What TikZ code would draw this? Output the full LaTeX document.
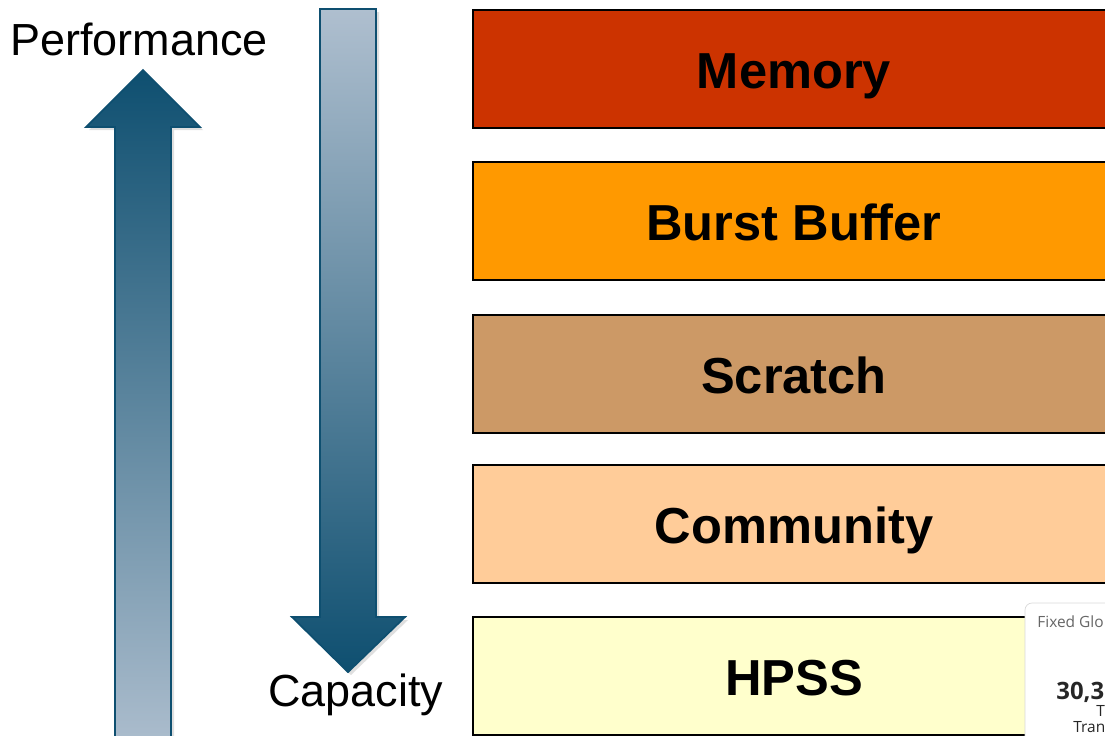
\documentclass[tikz,border=0pt]{standalone}
\usepackage{fontspec}
\setmainfont{Liberation Sans}
\newfontfamily\popfont{Open Sans}
\begin{document}
\begin{tikzpicture}[x=0.02cm,y=-0.02cm,
  tier/.style={draw=black,line width=1.2pt,minimum width=28.8cm,minimum height=2.36cm,anchor=north west,inner sep=0pt},
  tierlabel/.style={font=\fontsize{28.8}{30}\selectfont\bfseries,text=black,anchor=base},
  axislabel/.style={font=\fontsize{25.6}{28}\selectfont,text=black,inner sep=0pt},
  poptext/.style={font=\popfont\fontsize{8.8}{10}\selectfont,text=black!85,anchor=west,inner sep=0pt},
  arrowborder/.style={draw=arrowdark,line width=1pt,line join=miter}]
\definecolor{arrowdark}{HTML}{0E4F70}
\definecolor{arrowlight}{HTML}{AFBFCF}
\definecolor{memc}{HTML}{CC3300}
\definecolor{bbc}{HTML}{FF9900}
\definecolor{scrc}{HTML}{CC9966}
\definecolor{comc}{HTML}{FFCC99}
\definecolor{hpssc}{HTML}{FFFFCC}
\useasboundingbox (0,0) rectangle (1105,735);
\clip (0,0) rectangle (1105,735);
% tiers
\node[tier,fill=memc] (mem) at (472,9) {};
\node[tierlabel] (memt) at (794,88) {Memory};
\node[tier,fill=bbc] (bb) at (472,161) {};
\node[tierlabel] (bbt) at (794,240) {Burst Buffer};
\node[tier,fill=scrc] (scr) at (472,314) {};
\node[tierlabel] (scrt) at (794,393) {Scratch};
\node[tier,fill=comc] (com) at (472,464) {};
\node[tierlabel] (comt) at (794,543) {Community};
\node[tier,fill=hpssc] (hpss) at (472,616) {};
\node[tierlabel] (hpsst) at (794,695) {HPSS};
% popup (cut by the right edge)
\draw[draw=black!15,fill=white,rounded corners=4pt] (1025,603) rectangle (1160,760);
\node[poptext,text=black!60] (pt1) at (1037,622) {Fixed Glo};
\node[poptext,font=\popfont\fontsize{13.6}{15}\selectfont\bfseries] (pt2) at (1056,692) {30,3};
\node[poptext] (pt3) at (1096,711) {T};
\node[poptext] (pt4) at (1073,727) {Tran};
% up arrow (performance)
\fill[black!25,opacity=0.5] (117,760) -- (117,130) -- (89,130) -- (146,73) -- (203,130) -- (174,130) -- (174,760) -- cycle;
\path[arrowborder,top color=arrowdark,bottom color=arrowlight] (115,760) -- (115,127) -- (86,127) -- (143,70) -- (200,127) -- (171,127) -- (171,760) -- cycle;
% down arrow (capacity)
\fill[black!25,opacity=0.5] (323,12) -- (379,12) -- (379,620) -- (408,620) -- (351,675) -- (295,620) -- (323,620) -- cycle;
\path[arrowborder,top color=arrowlight,bottom color=arrowdark] (320,9) -- (376,9) -- (376,617) -- (405,617) -- (348,672) -- (292,617) -- (320,617) -- cycle;
% axis labels
\node[axislabel,anchor=west] (perf) at (10,39) {Performance};
\node[axislabel,anchor=west] (cap) at (268,695) {Capacity};
\end{tikzpicture}
\end{document}
